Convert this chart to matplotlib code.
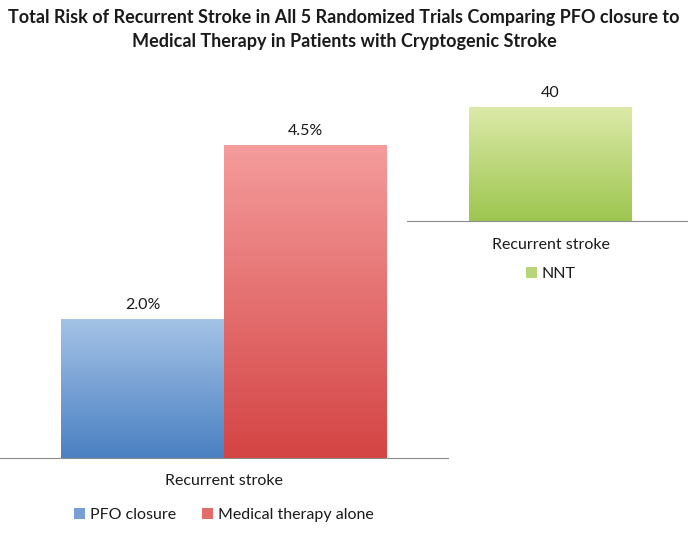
import numpy as np
import matplotlib
matplotlib.use("Agg")
import matplotlib.pyplot as plt
from matplotlib.colors import LinearSegmentedColormap
from matplotlib.patches import Patch

title = ("Total Risk of Recurrent Stroke in All 5 Randomized Trials Comparing PFO closure to\n"
         "Medical Therapy in Patients with Cryptogenic Stroke")
category = "Recurrent stroke"
series = ["PFO closure", "Medical therapy alone"]
risk = [2.0, 4.5]
nnt_series = "NNT"
nnt = [40]

grad_blue = ("#a5c3e6", "#4a80c2")
grad_red = ("#f59c9c", "#d44444")
grad_green = ("#dce9a8", "#9dc64f")

plt.rcParams['font.family'] = ['Lato', 'DejaVu Sans']


def gradient_bar(ax, bar, top_bottom):
    cmap = LinearSegmentedColormap.from_list("g", [top_bottom[1], top_bottom[0]])
    x0, y0 = bar.get_x(), bar.get_y()
    w, h = bar.get_width(), bar.get_height()
    grad = np.linspace(0, 1, 256).reshape(-1, 1)
    im = ax.imshow(grad, cmap=cmap, origin="lower", aspect="auto",
                   extent=[x0, x0 + w, y0, y0 + h], zorder=2)
    im.set_clip_path(bar)
    bar.set_facecolor("none")
    bar.set_edgecolor("none")


def style(ax):
    for s in ["top", "right", "left"]:
        ax.spines[s].set_visible(False)
    ax.spines["bottom"].set_color("#8c8c8c")
    ax.set_yticks([])
    ax.set_xticks([])


fig = plt.figure(figsize=(6.88, 5.38), dpi=100)
W, H = 688, 538

# left chart
ax1 = fig.add_axes([0 / W, 1 - 458 / H, 448 / W, (458 - 60) / H])
bw = 163 / 448
xs = [-bw / 2, bw / 2]
bars = ax1.bar(xs, risk, width=bw, zorder=2)
for b, g in zip(bars, [grad_blue, grad_red]):
    gradient_bar(ax1, b, g)
ax1.set_xlim(-0.5, 0.5)
ax1.set_ylim(0, 398 / 69.6)
for x, v in zip(xs, risk):
    ax1.annotate(f"{v:.1f}%", (x, v), xytext=(0, 5), textcoords="offset points",
                 ha="center", va="bottom", fontsize=11.5, color="#1a1a1a")
style(ax1)
ax1.text(0, -0.04, category, transform=ax1.get_xaxis_transform(), ha="center",
         va="top", fontsize=11.5, color="#1a1a1a")
ax1.legend(handles=[Patch(facecolor="#779fd4", label=series[0]),
                    Patch(facecolor="#e56a6a", label=series[1])],
           loc="upper center", bbox_to_anchor=(0.5, -0.09), ncol=2, frameon=False,
           fontsize=11.5, handlelength=0.7, handleheight=0.7, handletextpad=0.3,
           columnspacing=1.6, labelcolor="#1a1a1a")

# right chart
ax2 = fig.add_axes([407 / W, 1 - 221 / H, 287 / W, (221 - 70) / H])
bw2 = 163 / 287
bars2 = ax2.bar([0], nnt, width=bw2, zorder=2)
gradient_bar(ax2, bars2[0], grad_green)
ax2.set_xlim(-0.5, 0.5)
ax2.set_ylim(0, 40 * 151 / 114)
ax2.annotate(f"{nnt[0]}", (0, nnt[0]), xytext=(0, 5), textcoords="offset points",
             ha="center", va="bottom", fontsize=11.5, color="#1a1a1a")
style(ax2)
ax2.text(0, -0.113, category, transform=ax2.get_xaxis_transform(), ha="center",
         va="top", fontsize=11.5, color="#1a1a1a")
ax2.legend(handles=[Patch(facecolor="#b8d57a", label=nnt_series)],
           loc="upper center", bbox_to_anchor=(0.5, -0.21), frameon=False,
           fontsize=11.5, handlelength=0.7, handleheight=0.7, handletextpad=0.3,
           labelcolor="#1a1a1a")

fig.text(0.5, 1 - 29 / H, title, ha="center", va="center", fontsize=13,
         fontweight="bold", linespacing=1.5, color="#1a1a1a")

fig.savefig("out.png", dpi=100)
